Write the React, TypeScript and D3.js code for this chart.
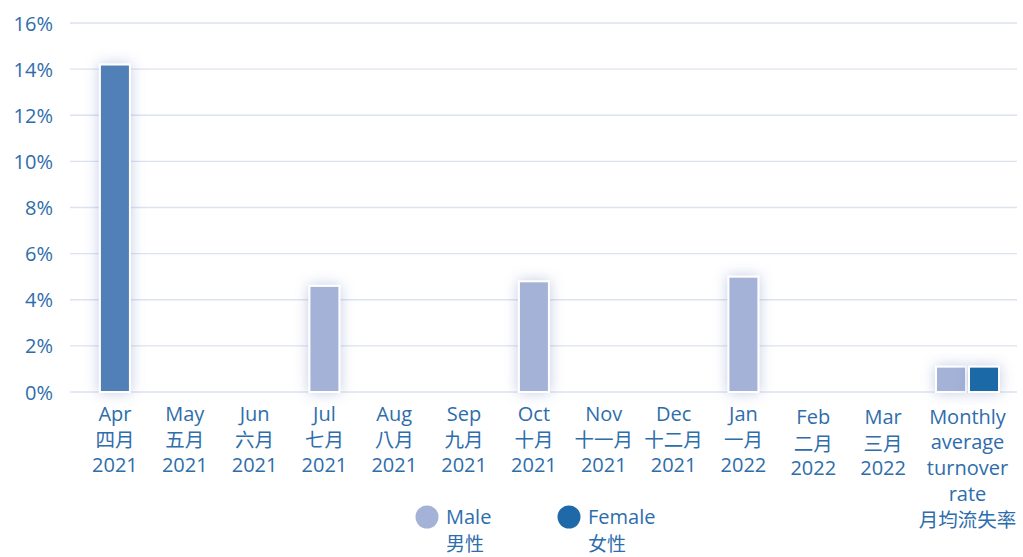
import React from "react";
import * as d3 from "d3";

const monthEn = ["Apr", "May", "Jun", "Jul", "Aug", "Sep", "Oct", "Nov", "Dec", "Jan", "Feb", "Mar"];
const monthZh = ["四月", "五月", "六月", "七月", "八月", "九月", "十月", "十一月", "十二月", "一月", "二月", "三月"];
const monthYear = ["2021", "2021", "2021", "2021", "2021", "2021", "2021", "2021", "2021", "2022", "2022", "2022"];
// turnover rate (%) per month; null = no bar
const monthRate: (number | null)[] = [14.2, null, null, 4.6, null, null, 4.8, null, null, 5.0, null, null];
const summaryEn = ["Monthly", "average", "turnover", "rate"];
const summaryZh = "月均流失率";
const seriesKeys = ["Male", "Female"];
const seriesZh = ["男性", "女性"];
const summaryValues = [1.1, 1.1];
const yTicks = [0, 2, 4, 6, 8, 10, 12, 14, 16];

const W = 1023;
const H = 557;
const TEXT = "#2e6dab";
const GRID = "#dce2ef";
const MALE = "#a3b2d6";
const FEMALE = "#1f69a8";
const ACCENT = "#517fb7";
const LATIN = "'Open Sans', 'Noto Sans', sans-serif";
const CJK = "'Noto Sans CJK TC', 'Noto Sans CJK SC', sans-serif";

export default function App() {
  const plotL = 70, plotR = 1017, plotT = 23, plotB = 392;
  const y = d3.scaleLinear().domain([0, 16]).range([plotB, plotT]);
  const xMonth = d3.scaleBand<string>().domain(monthEn).range([80, 918]).padding(0);
  const xSummary = d3.scaleBand<string>().domain(["summary"]).range([918, plotR]).padding(0);
  const barW = 30;
  const sCenter = (xSummary("summary") as number) + xSummary.bandwidth() / 2;
  const xSeries = d3.scaleBand<string>().domain(seriesKeys).range([sCenter - 31.5, sCenter + 31.5]).paddingInner(0.09);
  const lineStep = 25.7;
  const labelTop = 413;
  const lowered = new Set(["Feb", "Mar"]);
  const seriesColor = d3.scaleOrdinal<string, string>().domain(seriesKeys).range([MALE, FEMALE]);

  return (
    <div style={{ position: "absolute", left: 0, top: 0 }}>
      <svg width={W} height={H} style={{ display: "block", background: "#fff" }}>
        <defs>
          <filter id="glow" x="-100%" y="-50%" width="300%" height="200%">
            <feDropShadow dx="0" dy="0" stdDeviation="7" floodColor="#7b8dc4" floodOpacity="0.45" />
          </filter>
        </defs>
        {yTicks.map((t) => (
          <g key={t}>
            <line x1={plotL} x2={plotR} y1={y(t)} y2={y(t)} stroke={GRID} strokeWidth={1.3} />
            <text x={53} y={y(t)} textAnchor="end" dominantBaseline="central" fill={TEXT} fontFamily={LATIN} fontSize={20}>
              {t}%
            </text>
          </g>
        ))}
        {monthEn.map((m, i) => {
          const v = monthRate[i];
          if (v == null) return null;
          const cx = (xMonth(m) as number) + xMonth.bandwidth() / 2;
          return (
            <rect key={m} x={cx - barW / 2} y={y(v)} width={barW} height={y(0) - y(v)}
              fill={i === 0 ? ACCENT : MALE} stroke="#fff" strokeWidth={2} filter="url(#glow)" />
          );
        })}
        {seriesKeys.map((k, i) => (
          <rect key={k} x={xSeries(k) as number} y={y(summaryValues[i])} width={xSeries.bandwidth()}
            height={y(0) - y(summaryValues[i])} fill={seriesColor(k)} stroke="#fff" strokeWidth={2} filter="url(#glow)" />
        ))}
        {monthEn.map((m, i) => {
          const cx = (xMonth(m) as number) + xMonth.bandwidth() / 2;
          const top = labelTop + (lowered.has(m) ? 3.5 : 0);
          return (
            <g key={m} fill={TEXT} fontSize={20} textAnchor="middle">
              <text x={cx} y={top} dominantBaseline="central" fontFamily={LATIN}>{m}</text>
              <text x={cx} y={top + lineStep} dominantBaseline="central" fontFamily={CJK} fontSize={19.5}>{monthZh[i]}</text>
              <text x={cx} y={top + lineStep * 2} dominantBaseline="central" fontFamily={LATIN}>{monthYear[i]}</text>
            </g>
          );
        })}
        <g fill={TEXT} fontSize={20} textAnchor="middle">
          {summaryEn.map((s, i) => (
            <text key={s} x={sCenter} y={labelTop + 3 + lineStep * i} dominantBaseline="central" fontFamily={LATIN}>{s}</text>
          ))}
          <text x={sCenter} y={labelTop + 3 + lineStep * 4} dominantBaseline="central" fontFamily={CJK} fontSize={19.5}>{summaryZh}</text>
        </g>
        {seriesKeys.map((k, i) => {
          const lx = 427 + i * 142;
          return (
            <g key={k} fill={TEXT}>
              <circle cx={lx} cy={517} r={11.5} fill={seriesColor(k)} />
              <text x={lx + 19} y={516} dominantBaseline="central" fontFamily={LATIN} fontSize={20}>{k}</text>
              <text x={lx + 19} y={542} dominantBaseline="central" fontFamily={CJK} fontSize={19}>{seriesZh[i]}</text>
            </g>
          );
        })}
      </svg>
    </div>
  );
}
